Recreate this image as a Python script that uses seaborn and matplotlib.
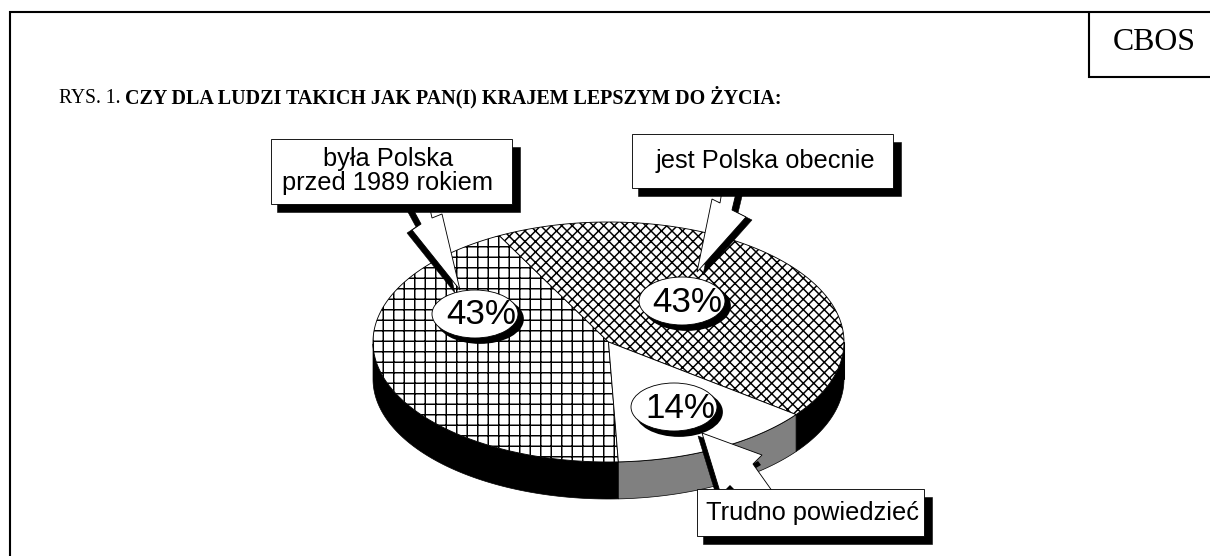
import numpy as np
import seaborn as sns
import matplotlib
matplotlib.use('Agg')
import matplotlib.pyplot as plt
from matplotlib.patches import Ellipse, Polygon, Rectangle

# dane
kategorie = ['była Polska\nprzed 1989 rokiem', 'jest Polska obecnie', 'Trudno powiedzieć']
udzial = [43, 43, 14]
tytul_a = 'RYS. 1. '
tytul_b = 'CZY DLA LUDZI TAKICH JAK PAN(I) KRAJEM LEPSZYM DO ŻYCIA:'
zrodlo = 'CBOS'

# wyglad wycinkow
kreskowanie = ['++', 'xxxx', None]
kolor_boku = ['black', 'black', '#808080']

sns.set_theme(style='white')
plt.rcParams['font.family'] = ['Liberation Sans', 'DejaVu Sans']
plt.rcParams['hatch.linewidth'] = 0.85
plt.rcParams['hatch.color'] = 'black'

W, H, DPI = 1210, 556, 126
fig = plt.figure(figsize=(W / DPI, H / DPI), dpi=DPI)
ax = fig.add_axes([0, 0, 1, 1])
ax.set_xlim(0, W)
ax.set_ylim(H, 0)   # os y w dol, jak na obrazku
ax.axis('off')

# ramka strony
ax.plot([10, 10, W], [H, 12, 12], color='black', lw=1.2, solid_joinstyle='miter', zorder=1)
ax.plot([1089, 1089, W], [12, 77, 77], color='black', lw=1.2, solid_joinstyle='miter', zorder=1)
ax.text(1154, 43, zrodlo, family='Liberation Serif', fontsize=18.2, ha='center', va='center', color='black')
ax.text(59, 103, tytul_a, family='Liberation Serif', fontsize=11.2, va='baseline', color='black')
ax.text(125, 103, tytul_b, family='Liberation Serif', fontsize=11.45, weight='bold', va='baseline', color='black')

# kolo - elipsa 3D
cx, cy, rx, ry, gl = 608.5, 342, 235.5, 120, 37

katy = 272.4 - np.cumsum([0] + udzial) * 3.6

for i in range(len(udzial)):
    t0, t1 = katy[i], katy[i + 1]
    # bok - tylko dolna polowa elipsy
    tt = np.radians(np.linspace(t0, t1, 160))
    dol = np.sin(tt) <= 0
    if dol.any():
        xb = cx + rx * np.cos(tt[dol])
        yb = cy - ry * np.sin(tt[dol])
        ax.fill(np.r_[xb, xb[::-1]], np.r_[yb, yb[::-1] + gl],
                facecolor=kolor_boku[i], edgecolor='black', lw=0.4, zorder=2)
    # wierzch
    xs = cx + rx * np.cos(tt)
    ys = cy - ry * np.sin(tt)
    ax.fill(np.r_[cx, xs], np.r_[cy, ys], facecolor='white', edgecolor='black',
            hatch=kreskowanie[i], lw=0.5, zorder=3)

# lewy i prawy skraj boku
ax.plot([cx - rx, cx - rx], [cy, cy + gl], color='black', lw=0.6, zorder=3)
ax.plot([cx + rx, cx + rx], [cy, cy + gl], color='black', lw=0.6, zorder=3)


def strzalka(punkty, przes):
    p = np.array(punkty, dtype=float)
    ax.add_patch(Polygon(p + przes, closed=True, facecolor='black', edgecolor='black', lw=0.3, zorder=4))
    ax.add_patch(Polygon(p, closed=True, facecolor='white', edgecolor='black', lw=0.5, zorder=5))


strzalka([(460, 290), (442, 214), (432, 218), (428, 200), (408, 200), (421, 224), (412, 230)], (-5, 3))
strzalka([(697, 272), (712, 199), (720, 203), (723, 185), (738, 185), (732, 210), (746, 217)], (6, 3))
strzalka([(702, 433), (762, 455), (753, 464), (775, 495), (721, 495)], (-4, 3))
# drobne czarne resztki cienia przy trzeciej strzalce
ax.add_patch(Polygon([(753, 464), (758, 461), (761, 465), (756, 468)], facecolor='black', edgecolor='none', zorder=5))
ax.add_patch(Polygon([(726, 489), (730, 485), (734, 489)], facecolor='black', edgecolor='none', zorder=5))

# etykiety procentowe
el_x = [475, 682, 674]
el_y = [314, 301, 407]
txt_x = [481, 687, 680]
txt_y = [315, 303, 408]
for i in range(len(udzial)):
    ax.add_patch(Ellipse((el_x[i] + 5, el_y[i] + 5), 86, 48, facecolor='black', edgecolor='black', zorder=6))
    ax.add_patch(Ellipse((el_x[i], el_y[i]), 86, 48, facecolor='white', edgecolor='black', lw=0.5, zorder=7))
    ax.text(txt_x[i], txt_y[i], f'{udzial[i]}%', fontsize=20, ha='center', va='center', color='black', zorder=8)

# ramki z opisami
ramki = [(271, 139, 241, 65), (632, 134, 261, 54), (697, 489, 227, 47)]
opis_xy = [(388, 171), (765, 161), (812, 513)]
for i, (x, y, w, h) in enumerate(ramki):
    ax.add_patch(Rectangle((x + 6, y + 8), w + 2, h, facecolor='black', edgecolor='black', lw=0.3, zorder=9))
    ax.add_patch(Rectangle((x, y), w, h, facecolor='white', edgecolor='black', lw=0.5, zorder=10))
    ax.text(opis_xy[i][0], opis_xy[i][1], kategorie[i], fontsize=14.5, ha='center', va='center',
            linespacing=1.05, color='black', zorder=11)

fig.savefig('out.png', dpi=DPI, facecolor='white')
